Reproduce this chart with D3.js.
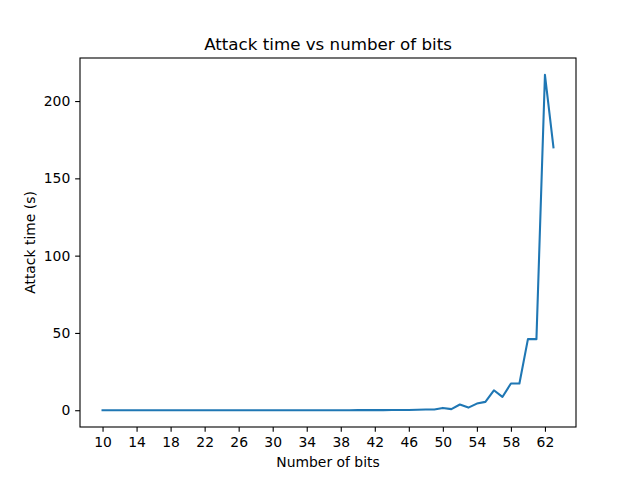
<!DOCTYPE html>
<html><head><meta charset="utf-8">
<script src="https://cdn.jsdelivr.net/npm/d3@7"></script>
<style>body{margin:0;background:#fff}svg{display:block}text{font-family:"DejaVu Sans",sans-serif;fill:#000}</style>
</head><body>
<script>
const bits = d3.range(10, 64);
const times = [
 0.001,0.001,0.001,0.001,0.001,0.001,0.002,0.002,0.003,0.003,
 0.004,0.004,0.005,0.005,0.006,0.006,0.007,0.008,0.009,0.010,
 0.012,0.014,0.016,0.018,0.020,0.023,0.026,0.030,0.035,0.040,
 0.05,0.06,0.07,0.09,0.11,0.14,0.2,0.3,0.45,0.5,
 1.5,0.7,3.7,1.7,4.3,5.4,12.9,8.6,17.3,17.3,
 46,46,217,170
];
const xTicks = d3.range(10, 63, 4);
const yTicks = [0, 50, 100, 150, 200];

const W = 640, H = 480;
const m = {l: 80, r: 576, t: 58, b: 427};
const svg = d3.select("body").append("svg").attr("width", W).attr("height", H);

const xMin = d3.min(bits), xMax = d3.max(bits), xp = (xMax - xMin) * 0.05;
const yMin = d3.min(times), yMax = d3.max(times), yp = (yMax - yMin) * 0.05;
const x = d3.scaleLinear().domain([xMin - xp, xMax + xp]).range([m.l, m.r]);
const y = d3.scaleLinear().domain([yMin - yp, yMax + yp]).range([m.b, m.t]);

const line = d3.line().x((d, i) => x(bits[i])).y(d => y(d));
svg.append("path").datum(times).attr("d", line)
  .attr("fill", "none").attr("stroke", "#1f77b4").attr("stroke-width", 2.08)
  .attr("stroke-linejoin", "round").attr("stroke-linecap", "square");

const xa = svg.append("g").attr("transform", `translate(0,${m.b})`)
  .call(d3.axisBottom(x).tickValues(xTicks).tickSize(4.86).tickPadding(4.86).tickFormat(d3.format("d")));
const ya = svg.append("g").attr("transform", `translate(${m.l},0)`)
  .call(d3.axisLeft(y).tickValues(yTicks).tickSize(4.86).tickPadding(4.86).tickFormat(d3.format("d")));
[xa, ya].forEach(a => {
  a.select(".domain").remove();
  a.selectAll(".tick line").attr("stroke", "#000").attr("stroke-width", 1.1);
  a.selectAll(".tick text").style("font-size", "13.9px").attr("font-family", "DejaVu Sans").attr("fill", "#000");
});

svg.append("rect").attr("x", m.l).attr("y", m.t).attr("width", m.r - m.l).attr("height", m.b - m.t)
  .attr("fill", "none").attr("stroke", "#000").attr("stroke-width", 1.1);

svg.append("text").attr("x", (m.l + m.r) / 2).attr("y", 49.5).attr("text-anchor", "middle")
  .style("font-size", "16.7px").text("Attack time vs number of bits");
svg.append("text").attr("x", (m.l + m.r) / 2).attr("y", 467).attr("text-anchor", "middle")
  .style("font-size", "13.9px").text("Number of bits");
svg.append("text").attr("transform", `translate(35,${(m.t + m.b) / 2}) rotate(-90)`).attr("text-anchor", "middle")
  .style("font-size", "13.9px").text("Attack time (s)");
</script>
</body></html>
